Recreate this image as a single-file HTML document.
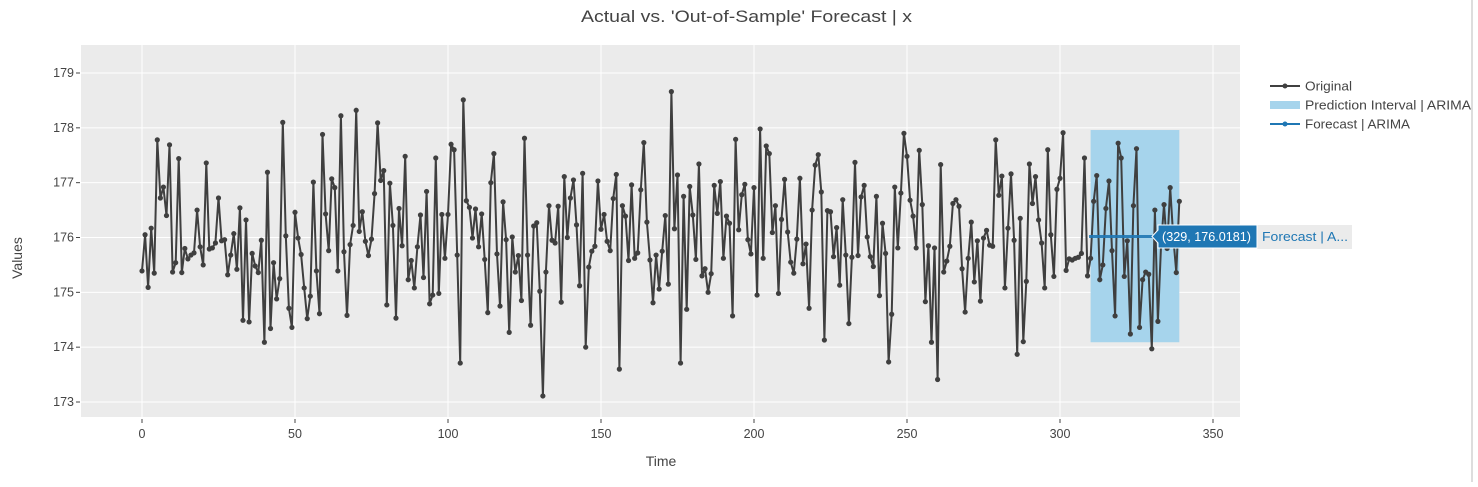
<!DOCTYPE html>
<html><head><meta charset="utf-8">
<style>
body{margin:0;background:#fff;width:1478px;height:482px;overflow:hidden;font-family:"Liberation Sans",sans-serif}
svg text{font-family:"Liberation Sans",sans-serif}
</style></head>
<body>
<svg id="chart" width="1478" height="482" xmlns="http://www.w3.org/2000/svg">
<rect x="0" y="0" width="1478" height="482" fill="#fff"/>
<rect x="81" y="45" width="1159" height="372" fill="#ebebeb"/>
<g id="grid"></g>
<g id="interval"></g>
<g id="series"></g>
<g id="fc"></g>
<g id="axes"></g>
<text x="581" y="22" textLength="331" lengthAdjust="spacingAndGlyphs" font-size="17" fill="#444">Actual vs. 'Out-of-Sample' Forecast | x</text>
<text x="661" y="466" text-anchor="middle" font-size="14" fill="#444">Time</text>
<text transform="translate(22,258) rotate(-90)" text-anchor="middle" font-size="14" fill="#444">Values</text>
<g>
 <g>
  <line x1="1270" y1="86" x2="1300" y2="86" stroke="#404040" stroke-width="2"/><circle cx="1285" cy="86" r="2.5" fill="#404040"/>
  <text x="1305" y="90.5" font-size="13" textLength="47" lengthAdjust="spacingAndGlyphs" fill="#444">Original</text></g>
 <g>
  <rect x="1270" y="101" width="30" height="8" fill="#a6d4ec"/>
  <text x="1305" y="109.5" font-size="13" textLength="166" lengthAdjust="spacingAndGlyphs" fill="#444">Prediction Interval | ARIMA</text></g>
 <g>
  <line x1="1270" y1="124" x2="1300" y2="124" stroke="#1f77b4" stroke-width="2"/><circle cx="1285" cy="124" r="2.5" fill="#1f77b4"/>
  <text x="1305" y="128.5" font-size="13" textLength="105" lengthAdjust="spacingAndGlyphs" fill="#444">Forecast | ARIMA</text></g>
</g>
<g>
 <rect x="1257" y="225" width="95" height="24" fill="#ebebeb"/>
 <text x="1262" y="241" font-size="12.5" textLength="86" lengthAdjust="spacingAndGlyphs" fill="#1f77b4">Forecast | A...</text>
 <path d="M1152,236.5 L1158,230 L1158,225 L1257,225 L1257,248 L1158,248 L1158,243 Z" fill="#1f77b4" stroke="#fff" stroke-width="1"/>
 <text x="1162" y="241" font-size="12.5" textLength="89" lengthAdjust="spacingAndGlyphs" fill="#fff">(329, 176.0181)</text>
</g>
<rect x="1471" y="0" width="2" height="482" fill="#ddd"/>
</svg>
<script>
const original = [175.39,176.05,175.09,176.17,175.35,177.78,176.72,176.92,176.40,177.69,175.37,175.54,177.44,175.36,175.80,175.61,175.68,175.72,176.50,175.83,175.50,177.36,175.79,175.81,175.90,176.72,175.94,175.96,175.32,175.68,176.07,175.42,176.54,174.49,176.32,174.46,175.71,175.48,175.36,175.95,174.09,177.19,174.34,175.54,174.88,175.25,178.10,176.03,174.71,174.36,176.46,175.99,175.69,175.08,174.52,174.93,177.01,
175.39,174.61,177.88,176.43,175.76,177.07,176.91,175.39,178.22,175.74,174.58,175.87,176.22,178.32,176.11,176.47,175.93,175.67,175.97,176.80,178.09,177.04,177.22,174.77,176.99,176.22,174.53,176.53,175.85,177.48,175.23,175.58,175.08,175.83,176.41,175.27,176.84,174.79,174.95,177.45,174.98,176.42,175.62,176.42,177.70,177.60,175.68,173.71,178.51,176.67,176.55,175.99,176.52,175.83,176.43,175.60,174.63,177.00,
177.53,175.70,174.75,176.65,175.96,174.27,176.01,175.37,175.67,174.85,177.81,175.68,174.40,176.21,176.27,175.02,173.11,175.37,176.58,175.95,175.90,176.57,174.82,177.11,176.00,176.72,177.05,176.23,175.12,177.17,174.00,175.46,175.75,175.84,177.03,176.15,176.42,175.93,175.76,176.71,177.15,173.60,176.58,176.39,175.58,176.96,175.62,175.72,176.87,177.73,176.28,175.59,174.81,175.68,175.06,175.75,176.40,
175.15,178.66,176.16,177.14,173.71,176.75,174.69,176.93,176.41,175.60,177.34,175.30,175.43,175.00,175.34,176.95,176.44,177.02,175.62,176.39,176.26,174.57,177.79,176.14,176.78,176.97,175.96,175.70,176.91,174.95,177.98,175.62,177.67,177.53,176.09,176.58,174.98,176.33,177.06,176.10,175.55,175.35,175.97,177.08,175.52,175.88,174.71,176.50,177.32,177.51,176.83,174.13,176.49,176.47,175.65,176.18,175.13,
176.69,175.68,174.43,175.64,177.37,175.67,176.74,176.95,176.01,175.65,175.47,176.75,174.94,176.26,175.71,173.73,174.60,176.92,175.81,176.81,177.90,177.48,176.68,176.39,175.81,177.59,176.60,174.83,175.85,174.09,175.81,173.41,177.33,175.37,175.57,175.84,176.62,176.69,176.57,175.43,174.64,175.62,176.28,175.19,175.94,174.84,175.99,176.13,175.86,175.84,177.78,176.77,177.12,175.08,176.17,177.16,175.95,
173.87,176.35,174.10,175.20,177.34,176.62,177.11,176.32,175.90,175.08,177.60,176.05,175.29,176.88,177.08,177.91,175.40,175.61,175.59,175.62,175.64,175.71,177.45,175.30,175.62,176.66,177.13,175.23,175.50,176.53,177.03,175.76,174.57,177.72,177.45,175.29,175.94,174.24,176.58,177.62,174.36,175.23,175.37,175.33,173.97,176.50,174.47,175.84,176.60,175.80,176.91,176.02,175.36,176.66];
const forecastStart = 310;
const forecastEnd = 339;
const forecastValue = [176.0181];
const intervalLower = [174.09];
const intervalUpper = [177.96];
const xTicks = [0,50,100,150,200,250,300,350];
const yTicks = [173,174,175,176,177,178,179];

const NS='http://www.w3.org/2000/svg';
const L=81,R=1240,T=45,B=417;
function xs(v){return 142+(v-0)*(1213-142)/350;}
function ys(v){return 402+(v-173)*(73-402)/6;}
function mk(tag,attrs,parent){const e=document.createElementNS(NS,tag);for(const k in attrs)e.setAttribute(k,attrs[k]);parent.appendChild(e);return e;}
const grid=document.getElementById('grid'),axes=document.getElementById('axes');
xTicks.forEach(t=>{
  const g=mk('line',{x1:xs(t),x2:xs(t),y1:T,y2:B,stroke:'#fff','stroke-width':1},grid);
  
  
  const tk=mk('line',{x1:xs(t),x2:xs(t),y1:B+2,y2:B+6,stroke:'#444','stroke-width':1},axes);
  
  
  const tx=mk('text',{x:xs(t),y:438,'text-anchor':'middle','font-size':12.5,fill:'#444'},axes);
  tx.textContent=t;
  
  
});
yTicks.forEach(t=>{
  const g=mk('line',{x1:L,x2:R,y1:ys(t),y2:ys(t),stroke:'#fff','stroke-width':1},grid);
  
  
  const tk=mk('line',{x1:L-5,x2:L-1,y1:ys(t),y2:ys(t),stroke:'#444','stroke-width':1},axes);
  
  
  const tx=mk('text',{x:L-7,y:ys(t)+4,'text-anchor':'end','font-size':12.5,fill:'#444'},axes);
  tx.textContent=t;
  
  
});
const iv=mk('rect',{x:xs(forecastStart),y:ys(intervalUpper[0]),width:xs(forecastEnd)-xs(forecastStart),height:ys(intervalLower[0])-ys(intervalUpper[0]),fill:'#a6d4ec'},document.getElementById('interval'));


const s=document.getElementById('series');
const pts=original.map((v,i)=>xs(i).toFixed(1)+','+ys(v).toFixed(1)).join(' ');
const pl=mk('polyline',{points:pts,fill:'none',stroke:'#3f3f3f','stroke-width':2,'stroke-linejoin':'round'},s);


original.forEach((v,i)=>{
  const c=mk('circle',{cx:xs(i),cy:ys(v),r:2.6,fill:'#3f3f3f'},s);
  
  
});
const fc=document.getElementById('fc');
const fl=mk('line',{x1:xs(forecastStart-0.5),x2:xs(forecastEnd),y1:ys(forecastValue[0]),y2:ys(forecastValue[0]),stroke:'#1f77b4','stroke-width':3,opacity:0.9},fc);


</script>
</body></html>
